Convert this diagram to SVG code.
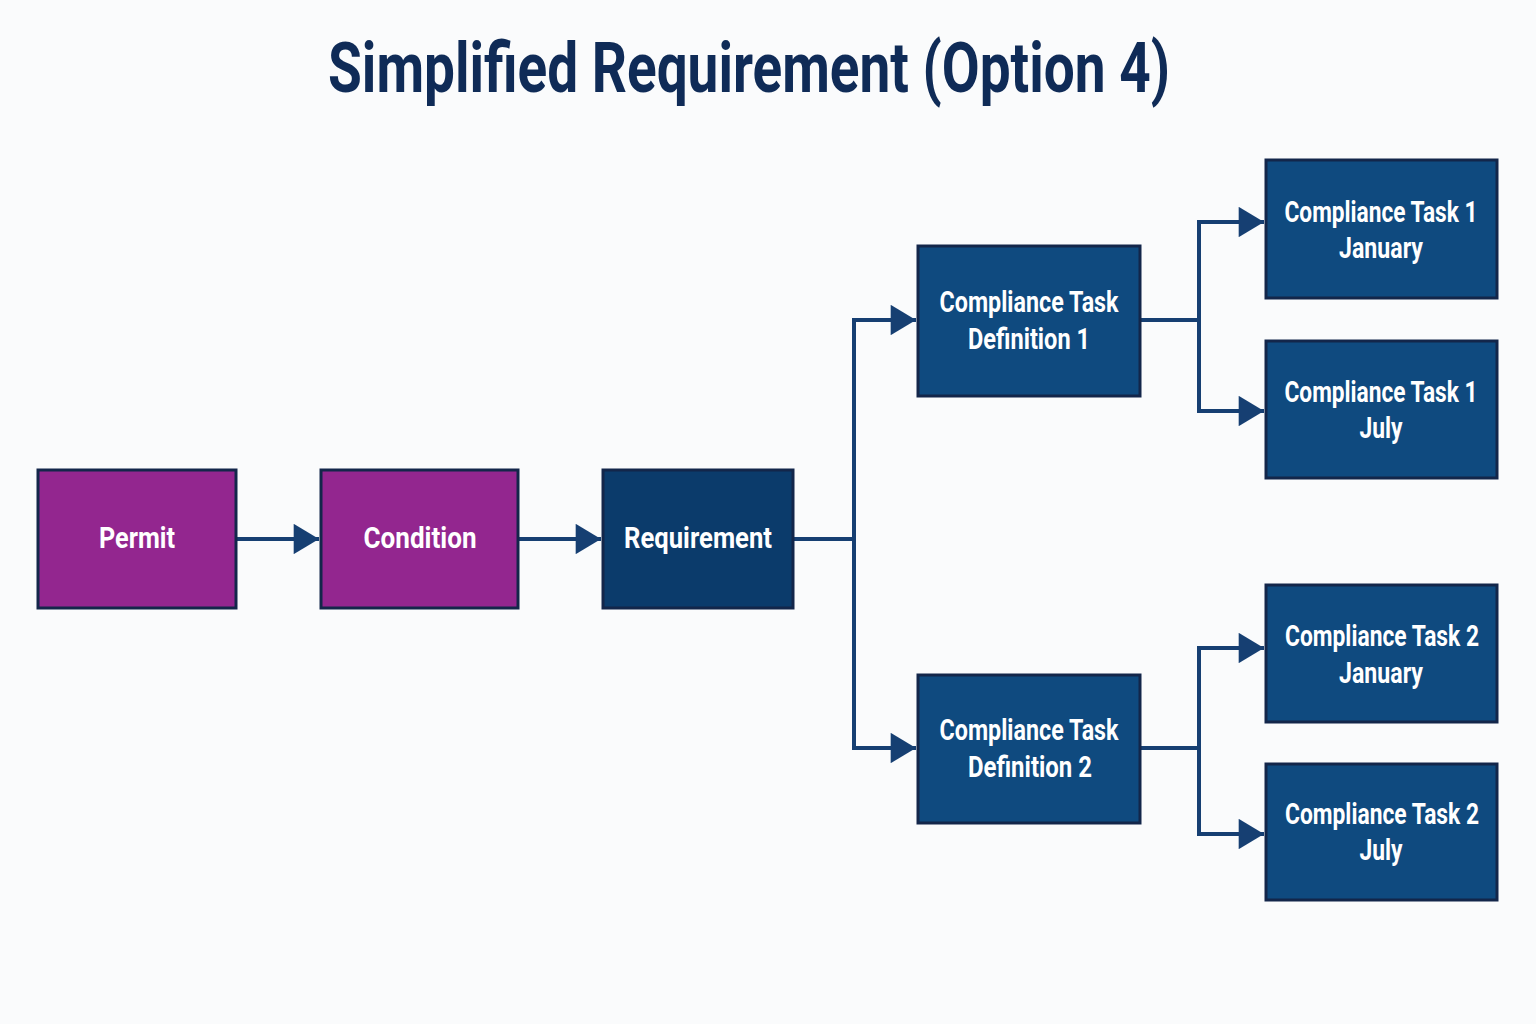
<svg xmlns="http://www.w3.org/2000/svg" width="1536" height="1024" viewBox="0 0 1536 1024">
<style>
.bg{fill:#fafbfc}
.title{font-family:"Roboto","Liberation Sans",sans-serif;font-weight:700;font-size:70px;fill:#0f2b57;text-anchor:middle}
.box{stroke:#13264a;stroke-width:3}
.purple{fill:#93268f}
.navy{fill:#0b3b6b}
.blue{fill:#0f4a7f}
.lbl{font-family:"Roboto","Liberation Sans",sans-serif;font-weight:700;font-size:29px;fill:#ffffff;text-anchor:middle}
.conn{fill:none;stroke:#163f72;stroke-width:4}
</style>
<defs>
<marker id="arr" viewBox="0 0 10 12" refX="10" refY="6" markerWidth="6.5" markerHeight="7.6" markerUnits="strokeWidth" orient="auto">
<path d="M0,0 L10,6 L0,12 Z" fill="#163f72"/>
</marker>
</defs>
<rect class="bg" x="0" y="0" width="1536" height="1024"/>
<text class="title" x="749" y="92" textLength="842" lengthAdjust="spacingAndGlyphs">Simplified Requirement (Option 4)</text>

<g id="connectors">
<path class="conn" d="M236,539 H319" marker-end="url(#arr)"/>
<path class="conn" d="M518,539 H601" marker-end="url(#arr)"/>
<path class="conn" d="M793,539 H854"/>
<path class="conn" d="M854,320 V748"/>
<path class="conn" d="M852,320 H916" marker-end="url(#arr)"/>
<path class="conn" d="M852,748 H916" marker-end="url(#arr)"/>
<path class="conn" d="M1140,320 H1199"/>
<path class="conn" d="M1199,222 V411"/>
<path class="conn" d="M1197,222 H1264" marker-end="url(#arr)"/>
<path class="conn" d="M1197,411 H1264" marker-end="url(#arr)"/>
<path class="conn" d="M1140,748 H1199"/>
<path class="conn" d="M1199,648 V834"/>
<path class="conn" d="M1197,648 H1264" marker-end="url(#arr)"/>
<path class="conn" d="M1197,834 H1264" marker-end="url(#arr)"/>
</g>

<g id="permit">
<rect class="box purple" x="38" y="470" width="198" height="138"/>
<text class="lbl" x="137" y="548" textLength="76" lengthAdjust="spacingAndGlyphs">Permit</text>
</g>
<g id="condition">
<rect class="box purple" x="321" y="470" width="197" height="138"/>
<text class="lbl" x="420" y="548" textLength="113" lengthAdjust="spacingAndGlyphs">Condition</text>
</g>
<g id="requirement">
<rect class="box navy" x="603" y="470" width="190" height="138"/>
<text class="lbl" x="698" y="548" textLength="148" lengthAdjust="spacingAndGlyphs">Requirement</text>
</g>
<g id="ctd1">
<rect class="box blue" x="918" y="246" width="222" height="150"/>
<text class="lbl" x="1029" y="312" textLength="179" lengthAdjust="spacingAndGlyphs">Compliance Task</text>
<text class="lbl" x="1029" y="349" textLength="122" lengthAdjust="spacingAndGlyphs">Definition 1</text>
</g>
<g id="ctd2">
<rect class="box blue" x="918" y="675" width="222" height="148"/>
<text class="lbl" x="1029" y="740" textLength="179" lengthAdjust="spacingAndGlyphs">Compliance Task</text>
<text class="lbl" x="1030" y="777" textLength="124" lengthAdjust="spacingAndGlyphs">Definition 2</text>
</g>
<g id="ct1-jan">
<rect class="box blue" x="1266" y="160" width="231" height="138"/>
<text class="lbl" x="1381" y="222" textLength="193" lengthAdjust="spacingAndGlyphs">Compliance Task 1</text>
<text class="lbl" x="1381" y="258" textLength="84" lengthAdjust="spacingAndGlyphs">January</text>
</g>
<g id="ct1-jul">
<rect class="box blue" x="1266" y="341" width="231" height="137"/>
<text class="lbl" x="1381" y="402" textLength="193" lengthAdjust="spacingAndGlyphs">Compliance Task 1</text>
<text class="lbl" x="1381" y="438" textLength="43" lengthAdjust="spacingAndGlyphs">July</text>
</g>
<g id="ct2-jan">
<rect class="box blue" x="1266" y="585" width="231" height="137"/>
<text class="lbl" x="1382" y="646" textLength="194" lengthAdjust="spacingAndGlyphs">Compliance Task 2</text>
<text class="lbl" x="1381" y="683" textLength="84" lengthAdjust="spacingAndGlyphs">January</text>
</g>
<g id="ct2-jul">
<rect class="box blue" x="1266" y="764" width="231" height="136"/>
<text class="lbl" x="1382" y="824" textLength="194" lengthAdjust="spacingAndGlyphs">Compliance Task 2</text>
<text class="lbl" x="1381" y="860" textLength="43" lengthAdjust="spacingAndGlyphs">July</text>
</g>
</svg>
